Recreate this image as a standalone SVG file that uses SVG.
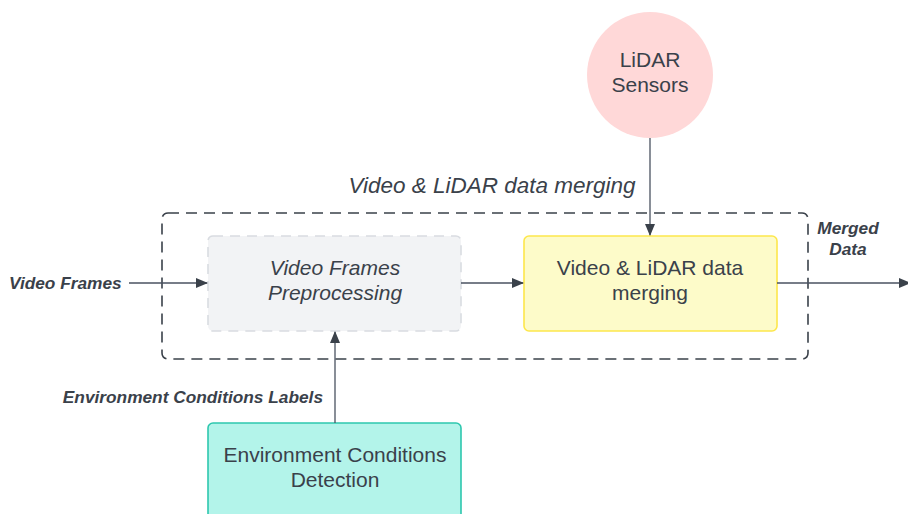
<svg xmlns="http://www.w3.org/2000/svg" width="908" height="514" viewBox="0 0 908 514">
<defs>
<marker id="ah" markerWidth="12" markerHeight="10" refX="11" refY="5" orient="auto" markerUnits="userSpaceOnUse">
<path d="M0,0 L12,5 L0,10 Z" fill="#3a414a"/>
</marker>
<style>
.t{font-family:"Liberation Sans",Arial,sans-serif;fill:#3a414a;font-size:21px;text-anchor:middle}
.lbl{font-family:"Liberation Sans",Arial,sans-serif;fill:#3a414a;font-size:17.3px;font-weight:bold;font-style:italic}
.c{stroke:#4a5260;stroke-width:1.3;fill:none}
</style>
</defs>
<rect width="908" height="514" fill="#ffffff"/>
<g id="container">
<rect x="162" y="213" width="646" height="146" rx="6" fill="none" stroke="#3a414a" stroke-width="1.6" stroke-dasharray="11,7"/>
<text class="t" x="492" y="193" style="font-style:italic;font-size:22.5px">Video &amp; LiDAR data merging</text>
</g>
<g id="lidar">
<circle cx="650" cy="75" r="63" fill="#ffd8d8"/>
<text class="t" x="650" y="67">LiDAR</text>
<text class="t" x="650" y="92">Sensors</text>
</g>
<g id="preprocessing">
<rect x="208" y="236" width="253" height="95" rx="5" fill="#f2f3f5" stroke="#d9dce1" stroke-width="1.6" stroke-dasharray="10,7"/>
<text class="t" x="335" y="275" style="font-style:italic">Video Frames</text>
<text class="t" x="335" y="300" style="font-style:italic">Preprocessing</text>
</g>
<g id="merging">
<rect x="524" y="236" width="253" height="95" rx="5" fill="#fdfbc9" stroke="#fde74c" stroke-width="1.6"/>
<text class="t" x="650" y="275">Video &amp; LiDAR data</text>
<text class="t" x="650" y="300">merging</text>
</g>
<g id="environment">
<rect x="208" y="423" width="253" height="100" rx="5" fill="#b3f4ea" stroke="#2ec7ae" stroke-width="1.6"/>
<text class="t" x="335" y="462">Environment Conditions</text>
<text class="t" x="335" y="487">Detection</text>
</g>
<g id="connectors">
<line class="c" x1="129" y1="283" x2="207" y2="283" marker-end="url(#ah)"/>
<line class="c" x1="461" y1="283" x2="523" y2="283" marker-end="url(#ah)"/>
<line class="c" x1="777" y1="283" x2="910" y2="283" marker-end="url(#ah)"/>
<line class="c" x1="650" y1="138" x2="650" y2="235" marker-end="url(#ah)"/>
<line class="c" x1="335" y1="423" x2="335" y2="332" marker-end="url(#ah)"/>
<text class="lbl" x="9" y="289">Video Frames</text>
<text class="lbl" x="323" y="403" text-anchor="end">Environment Conditions Labels</text>
<text class="lbl" x="848" y="234" text-anchor="middle">Merged</text>
<text class="lbl" x="848" y="255" text-anchor="middle">Data</text>
</g>
</svg>
